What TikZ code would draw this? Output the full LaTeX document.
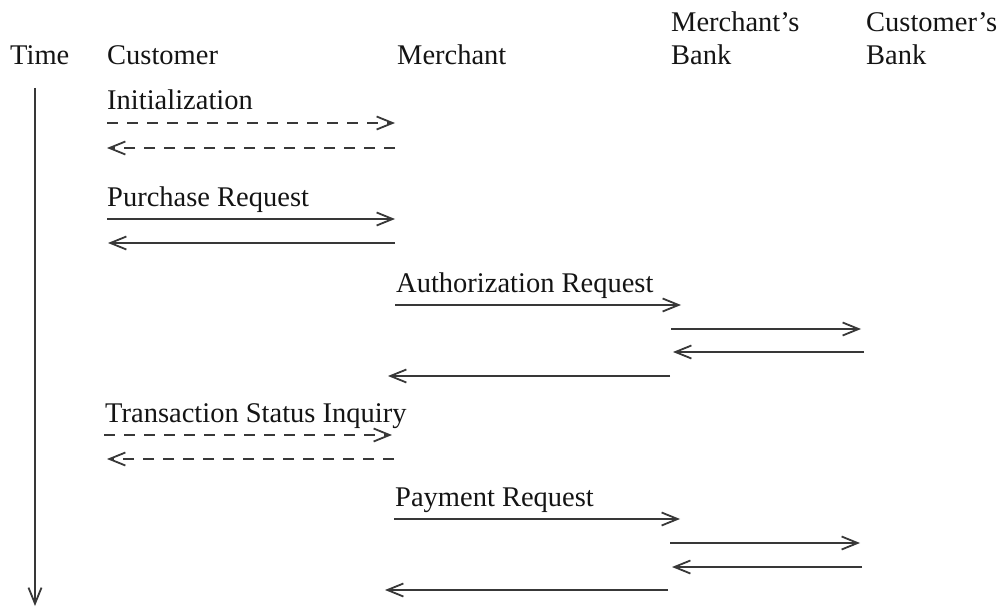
\documentclass[tikz,border=0pt]{standalone}
\usepackage{fontspec}
\setmainfont{Liberation Serif}
\usetikzlibrary{arrows.meta}
\begin{document}
\begin{tikzpicture}[x=1pt,y=-1pt,
  lbl/.style={anchor=base west, inner sep=0pt, text=black!92,
              font=\fontsize{28.5}{34}\selectfont},
  msg/.style={draw=black!78, line width=2pt,
              -{Straight Barb[length=16pt,width=13pt,line width=1.8pt]}},
  dmsg/.style={msg, dash pattern=on 11pt off 9pt}]
\useasboundingbox (0,0) rectangle (1003,612);

% column headings
\node[lbl] (time)  at (10,65)  {Time};
\node[lbl] (cust)  at (107,65) {Customer};
\node[lbl] (merch) at (397,65) {Merchant};
\node[lbl] (mb1)   at (671,32) {Merchant's};
\node[lbl] (mb2)   at (671,65) {Bank};
\node[lbl] (cb1)   at (866,32) {Customer's};
\node[lbl] (cb2)   at (866,65) {Bank};

% time axis
\coordinate (t0) at (35,88);
\coordinate (t1) at (35,606);
\draw[msg] (t0) -- (t1);

% message labels
\node[lbl] (init) at (107,110) {Initialization};
\node[lbl] (purch) at (107,207) {Purchase Request};
\node[lbl] (auth) at (396,292) {Authorization Request};
\node[lbl] (tsi) at (105,422) {Transaction Status Inquiry};
\node[lbl] (pay) at (395,506) {Payment Request};

% initialization exchange
\coordinate (a1) at (107,123); \coordinate (a2) at (395,123);
\coordinate (a3) at (395,148); \coordinate (a4) at (107,148);
\draw[dmsg] (a1) -- (a2);
\draw[dmsg] (a3) -- (a4);

% purchase request
\coordinate (b1) at (107,219); \coordinate (b2) at (395,219);
\coordinate (b3) at (395,243); \coordinate (b4) at (108,243);
\draw[msg] (b1) -- (b2);
\draw[msg] (b3) -- (b4);

% authorization request
\coordinate (c1) at (395,305); \coordinate (c2) at (681,305);
\coordinate (c3) at (671,329); \coordinate (c4) at (861,329);
\coordinate (c5) at (864,352); \coordinate (c6) at (673,352);
\coordinate (c7) at (670,376); \coordinate (c8) at (388,376);
\draw[msg] (c1) -- (c2);
\draw[msg] (c3) -- (c4);
\draw[msg] (c5) -- (c6);
\draw[msg] (c7) -- (c8);

% transaction status inquiry
\coordinate (d1) at (104,435); \coordinate (d2) at (392,435);
\coordinate (d3) at (394,459); \coordinate (d4) at (107,459);
\draw[dmsg] (d1) -- (d2);
\draw[dmsg] (d3) -- (d4);

% payment request
\coordinate (e1) at (394,519); \coordinate (e2) at (680,519);
\coordinate (e3) at (670,543); \coordinate (e4) at (860,543);
\coordinate (e5) at (862,567); \coordinate (e6) at (672,567);
\coordinate (e7) at (668,590); \coordinate (e8) at (385,590);
\draw[msg] (e1) -- (e2);
\draw[msg] (e3) -- (e4);
\draw[msg] (e5) -- (e6);
\draw[msg] (e7) -- (e8);
\end{tikzpicture}
\end{document}
